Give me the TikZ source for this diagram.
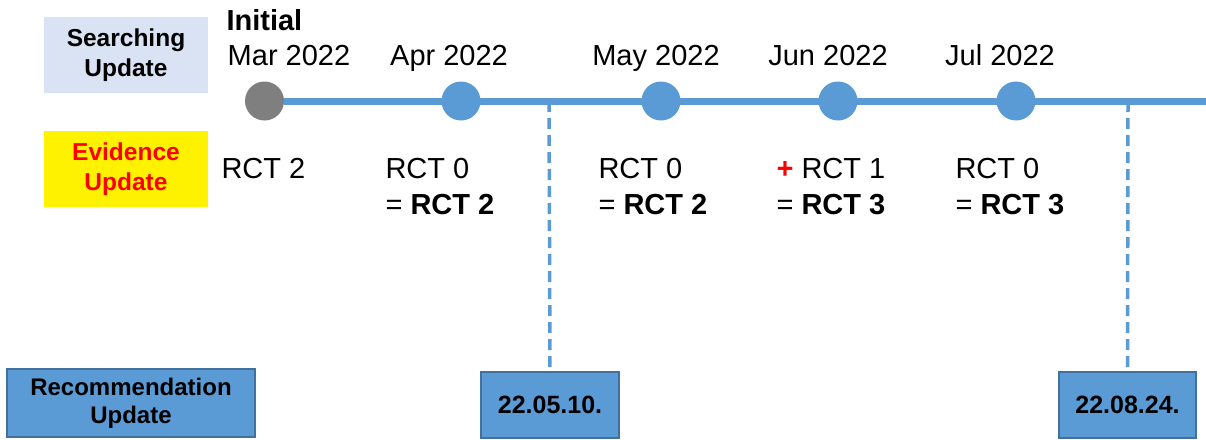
\documentclass[tikz,border=0pt]{standalone}
\usepackage{fontspec}
\setmainfont{Liberation Sans}
\definecolor{tlblue}{HTML}{5B9BD5}
\definecolor{tlborder}{HTML}{41719C}
\definecolor{searchfill}{HTML}{DAE3F3}
\definecolor{dotgray}{HTML}{7F7F7F}
\begin{document}
\begin{tikzpicture}[x=1pt,y=-1pt,
  labelbox/.style={minimum width=164pt,minimum height=76pt,inner sep=0pt,align=center,font=\fontsize{24.5}{30}\selectfont\bfseries},
  recbox/.style={draw=tlborder,line width=1.2pt,fill=tlblue,inner sep=0pt,align=center,font=\fontsize{24}{28}\selectfont\bfseries},
  dot/.style={circle,fill=tlblue,minimum size=39pt,inner sep=0pt},
  month/.style={anchor=base,font=\fontsize{29}{35}\selectfont},
  rct/.style={anchor=base west,font=\fontsize{29}{35}\selectfont},
  timeline/.style={draw=tlblue,line width=7pt},
  dashline/.style={draw=tlblue,line width=3.5pt,dash pattern=on 11pt off 6pt}
]
\useasboundingbox (0,0) rectangle (1206,439);
% left labels
\node[labelbox,fill=searchfill] (search) at (126,55) {Searching\\Update};
\node[labelbox,fill=yellow,text=red] (evid) at (126,169) {Evidence\\Update};
\node[recbox,minimum width=248pt,minimum height=68pt] (rec) at (131,403) {Recommendation\\Update};
% timeline
\coordinate (tlend) at (1206,101);
\coordinate (d1) at (549,101);
\coordinate (d2) at (1128,101);
\node[recbox,minimum width=138pt,minimum height=66pt,font=\fontsize{25}{30}\selectfont\bfseries] (b1) at (550,405) {22.05.10.};
\node[recbox,minimum width=137pt,minimum height=66pt,font=\fontsize{25}{30}\selectfont\bfseries] (b2) at (1127.5,405) {22.08.24.};
\draw[dashline] (d1) -- (b1.north);
\draw[dashline] (d2) -- (b2.north);
\node[circle,fill=dotgray,minimum size=39pt,inner sep=0pt] (p0) at (264.5,101) {};
\draw[timeline] (p0.east) -- (tlend);
\node[dot] (p1) at (461,101) {};
\node[dot] (p2) at (661,101) {};
\node[dot] (p3) at (838,101) {};
\node[dot] (p4) at (1016,101) {};
% month labels
\node[anchor=base west,font=\fontsize{29}{35}\selectfont\bfseries] (init) at (223,30) {Initial};
\node[month] (m0) at (289,65) {Mar 2022};
\node[month] (m1) at (449,65) {Apr 2022};
\node[month] (m2) at (656,65) {May 2022};
\node[month] (m3) at (828,65) {Jun 2022};
\node[month] (m4) at (1000,65) {Jul 2022};
% RCT labels
\node[rct] (r0) at (218,178) {RCT 2};
\node[rct] (r1a) at (382,178) {RCT 0};
\node[rct] (r1b) at (382,214) {= \textbf{RCT 2}};
\node[rct] (r2a) at (595,178) {RCT 0};
\node[rct] (r2b) at (595,214) {= \textbf{RCT 2}};
\node[rct] (r3a) at (773,178) {\textcolor{red}{\textbf{+}} RCT 1};
\node[rct] (r3b) at (773,214) {= \textbf{RCT 3}};
\node[rct] (r4a) at (952,178) {RCT 0};
\node[rct] (r4b) at (952,214) {= \textbf{RCT 3}};
\end{tikzpicture}
\end{document}
